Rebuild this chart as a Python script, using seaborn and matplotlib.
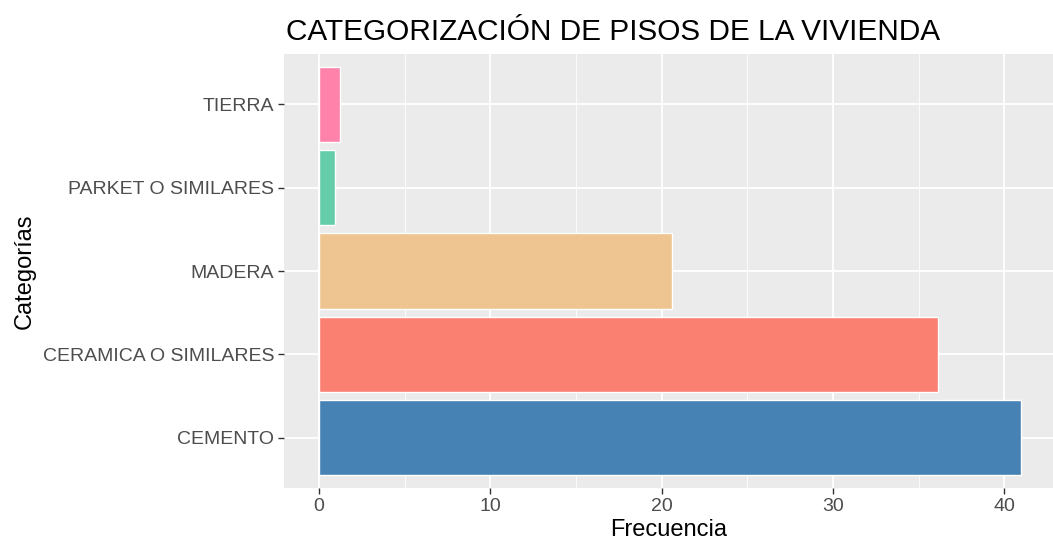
import numpy as np
import pandas as pd
import seaborn as sns
import matplotlib.pyplot as plt

# Datos (frecuencia en %)
categorias = ['CEMENTO', 'CERAMICA O SIMILARES', 'MADERA', 'PARKET O SIMILARES', 'TIERRA']
frecuencia = [41.0, 36.1, 20.6, 0.9, 1.2]
colores = ['#4682B4', '#FA8072', '#EEC591', '#66CDAA', '#FF82AB']

df = pd.DataFrame({'Categorias': categorias, 'Frecuencia': frecuencia})

sns.set_theme(style='darkgrid')
plt.rcParams['font.family'] = ['Liberation Sans', 'DejaVu Sans']

fig = plt.figure(figsize=(10.53, 5.52), dpi=100)
ax = fig.add_axes([284 / 1053, 1 - 488 / 552, 1 - 284 / 1053, (488 - 54) / 552])
ax.set_facecolor('#EBEBEB')

sns.barplot(data=df, x='Frecuencia', y='Categorias', hue='Categorias',
            palette=colores, order=categorias[::-1], hue_order=categorias,
            legend=False, width=0.9, saturation=1, edgecolor='white', linewidth=1.0,
            ax=ax, zorder=3)

ax.set_xlim(-2.05, 42.84)
ax.set_ylim(4.6, -0.6)
ax.set_xticks([0, 10, 20, 30, 40])
ax.set_xticks([5, 15, 25, 35], minor=True)
ax.grid(which='major', color='white', linewidth=1.3, zorder=0)
ax.grid(which='minor', axis='x', color='white', linewidth=0.6, zorder=0)
ax.set_axisbelow(True)
for s in ax.spines.values():
    s.set_visible(False)

ax.tick_params(axis='both', which='major', length=4, width=1, color='#333333',
               labelsize=14, labelcolor='#4D4D4D', pad=3, left=True, bottom=True)
ax.tick_params(axis='x', which='minor', length=0)

ax.set_xlabel('Frecuencia', fontsize=17, color='black', labelpad=3)
ax.set_ylabel('Categorías', fontsize=17, color='black', labelpad=5)
ax.set_title('CATEGORIZACIÓN DE PISOS DE LA VIVIENDA', fontsize=21.4, color='black',
             loc='left', x=0.003, pad=10)

fig.savefig('out.png', dpi=100)
